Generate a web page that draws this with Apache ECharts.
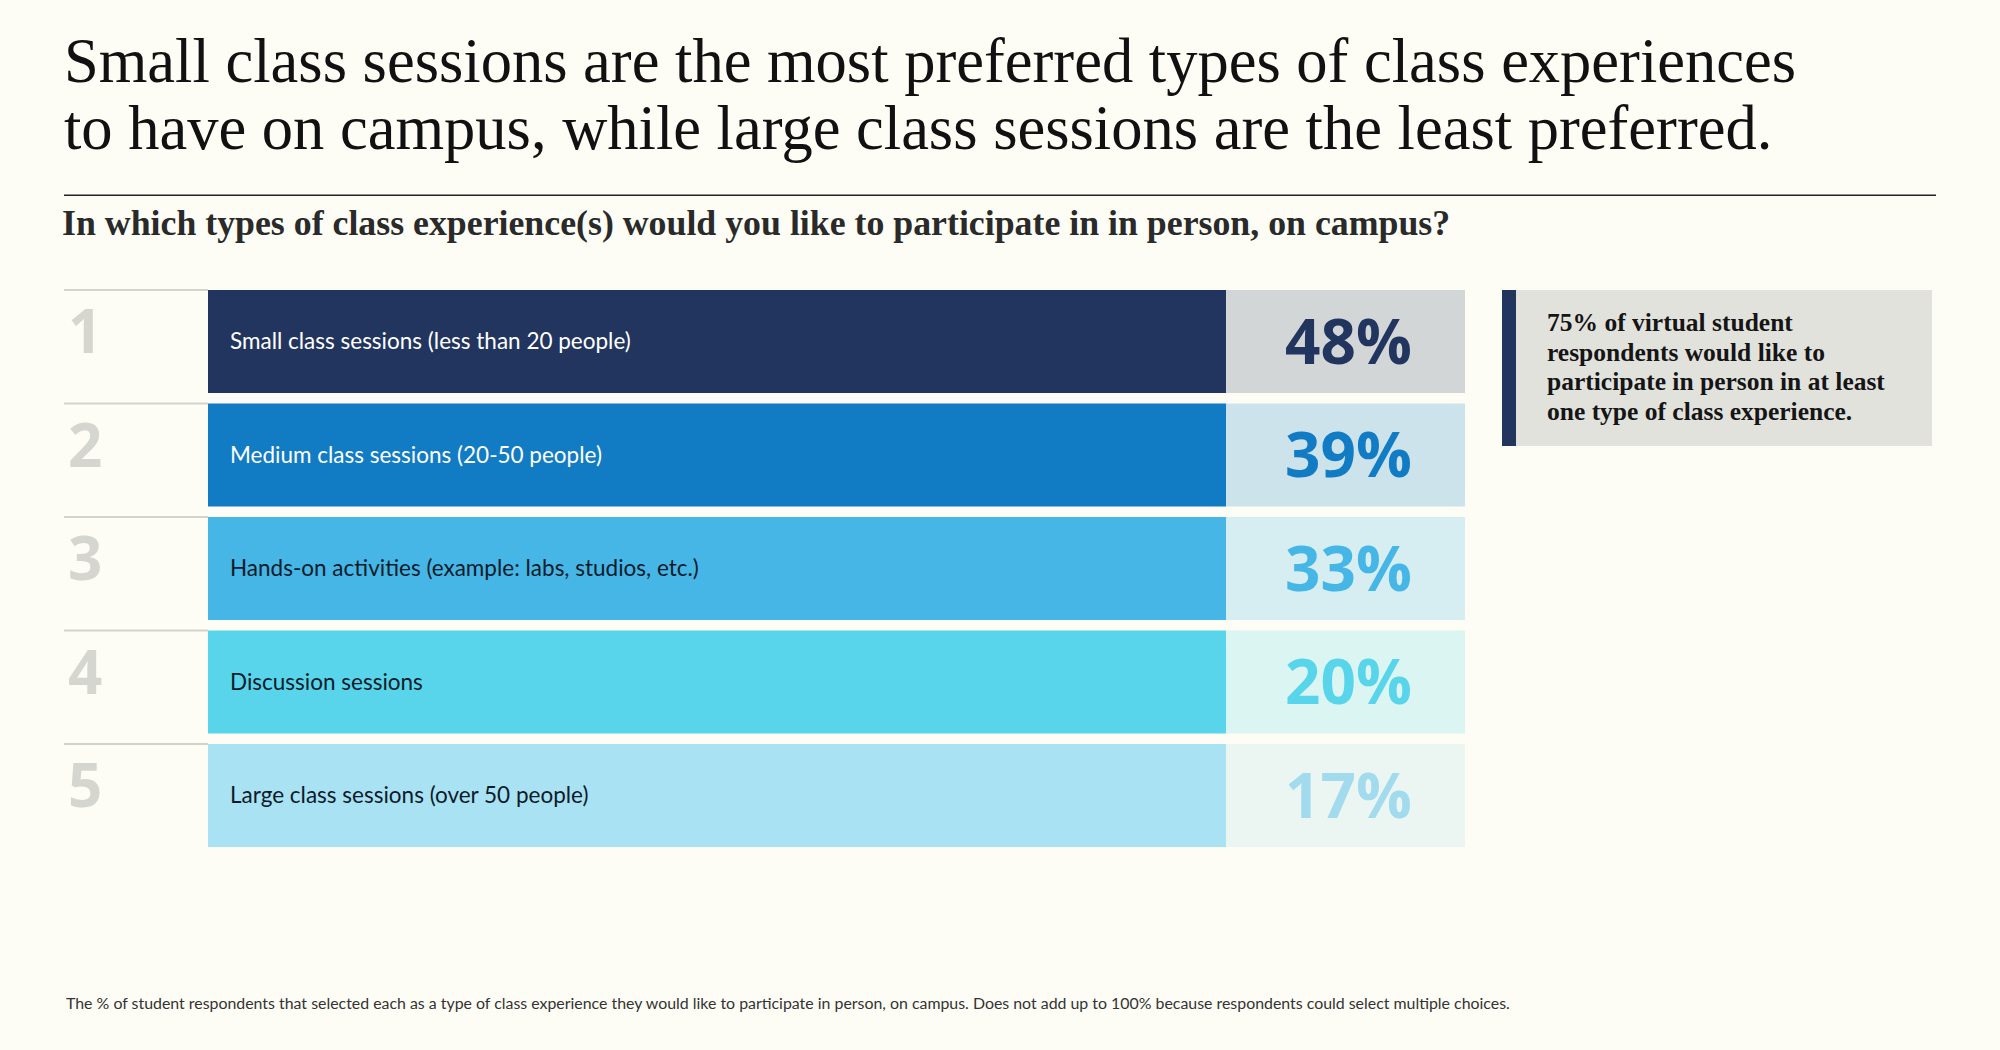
<!DOCTYPE html>
<html>
<head>
<meta charset="utf-8">
<script src="https://cdn.jsdelivr.net/npm/echarts@6/dist/echarts.min.js"></script>
<style>
  html, body { margin: 0; padding: 0; background: #fdfdf5; }
  #chart { width: 2000px; height: 1050px; }
</style>
</head>
<body>
<div id="chart"></div>
<script>
// ---------- data ----------
const titleLines = [
  'Small class sessions are the most preferred types of class experiences',
  'to have on campus, while large class sessions are the least preferred.'
];
const subtitle = 'In which types of class experience(s) would you like to participate in in person, on campus?';
const categories = [
  'Small class sessions (less than 20 people)',
  'Medium class sessions (20-50 people)',
  'Hands-on activities (example: labs, studios, etc.)',
  'Discussion sessions',
  'Large class sessions (over 50 people)'
];
const values = [48, 39, 33, 20, 17];
const calloutLines = [
  '75% of virtual student',
  'respondents would like to',
  'participate in person in at least',
  'one type of class experience.'
];
const footnote = 'The % of student respondents that selected each as a type of class experience they would like to participate in person, on campus. Does not add up to 100% because respondents could select multiple choices.';

// ---------- styles ----------
const barColors   = ['#22355e', '#117bc4', '#45b6e6', '#58d5ea', '#a8e2f3'];
const boxColors   = ['#d3d6d6', '#cde3eb', '#d6eef2', '#dbf5f2', '#ebf6f3'];
const valueColors = ['#22355e', '#117bc4', '#45b6e6', '#58d5ea', '#a3dbee'];
const labelColors = ['#ffffff', '#ffffff', '#0d1b2a', '#0d1b2a', '#0d1b2a'];

const SERIF = '"Liberation Serif", "DejaVu Serif", serif';
const SANS = 'Lato, "Open Sans", sans-serif';

const chart = echarts.init(document.getElementById('chart'), null, { renderer: 'svg' });

function renderRow(params, api) {
  const idx = api.value(1);
  const cs = params.coordSys;
  const center = api.coord([0, idx]);
  const band = api.size([0, 1])[1];
  const top = center[1] - band / 2;
  const barH = 103;
  const left = cs.x;
  const barL = left + 144;
  const barR = left + 1162;
  const boxR = cs.x + cs.width;
  const midY = top + barH / 2;
  return {
    type: 'group',
    children: [
      { type: 'rect', shape: { x: left, y: top - 1, width: barL - left, height: 2 }, style: { fill: '#d3d3cc' } },
      { type: 'text', style: { text: String(idx + 1), x: left + 4, y: top + 10, fill: '#d6d6d1',
          fontSize: 60, fontWeight: 'bold', fontFamily: '"Open Sans", sans-serif', align: 'left', verticalAlign: 'top' } },
      { type: 'rect', shape: { x: barL, y: top, width: barR - barL, height: barH }, style: { fill: barColors[idx] } },
      { type: 'rect', shape: { x: barR, y: top, width: boxR - barR, height: barH }, style: { fill: boxColors[idx] } },
      { type: 'text', style: { text: categories[idx], x: barL + 22, y: midY - 1, fill: labelColors[idx],
          fontSize: 22.5, fontFamily: SANS, align: 'left', verticalAlign: 'middle' } },
      { type: 'text', style: { text: api.value(0) + '%', x: (barR + boxR) / 2 + 3, y: midY - 2, fill: valueColors[idx],
          fontSize: 62, fontWeight: 'bold', fontFamily: '"Open Sans", sans-serif', align: 'center', verticalAlign: 'middle' } }
    ]
  };
}

const option = {
  backgroundColor: '#fdfdf5',
  animation: false,
  grid: { left: 64, right: 535, top: 290, bottom: 192.5, containLabel: false },
  xAxis: { type: 'value', min: 0, max: 100, show: false },
  yAxis: { type: 'category', data: categories, inverse: true, show: false },
  series: [{
    type: 'custom',
    renderItem: renderRow,
    data: values.map((v, i) => [v, i]),
    encode: { x: 0, y: 1 }
  }],
  graphic: [
    { type: 'text', left: 64, top: 29, style: { text: titleLines[0], fill: '#111', fontSize: 62.5, fontFamily: SERIF } },
    { type: 'text', left: 64, top: 96, style: { text: titleLines[1], fill: '#111', fontSize: 62.5, fontFamily: SERIF } },
    { type: 'rect', shape: { x: 64, y: 194.5, width: 1872, height: 1.5 }, style: { fill: '#222' } },
    { type: 'text', left: 62, top: 205, style: { text: subtitle, fill: '#2a2a2a', fontSize: 35.8, fontWeight: 'bold', fontFamily: SERIF } },
    { type: 'rect', shape: { x: 1502, y: 290, width: 430, height: 156 }, style: { fill: '#e2e2dd' } },
    { type: 'rect', shape: { x: 1502, y: 290, width: 14, height: 156 }, style: { fill: '#22355e' } },
    { type: 'text', left: 1547, top: 308, style: { text: calloutLines.join('\n'), lineHeight: 29.5, fill: '#151515',
        fontSize: 25.5, fontWeight: 'bold', fontFamily: SERIF } },
    { type: 'text', left: 66, top: 994, style: { text: footnote, fill: '#333', fontSize: 15.9, fontFamily: SANS } }
  ]
};
chart.setOption(option);
</script>
</body>
</html>
